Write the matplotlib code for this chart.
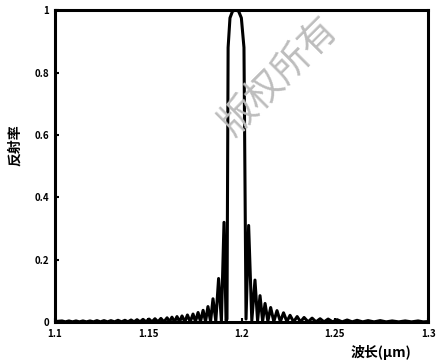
import matplotlib
matplotlib.use('Agg')
import matplotlib.pyplot as plt

plt.rcParams['font.family'] = ['Noto Sans CJK SC', 'DejaVu Sans']

# wavelength (um) and reflectance, left to right
wavelength = [
    1.1000, 1.1038, 1.1056, 1.1075, 1.1094, 1.1113, 1.1131, 1.1150, 1.1169,
    1.1188, 1.1206, 1.1225, 1.1244, 1.1263, 1.1282, 1.1300, 1.1319, 1.1338,
    1.1357, 1.1375, 1.1391, 1.1408, 1.1424, 1.1440, 1.1456, 1.1472, 1.1488,
    1.1504, 1.1520, 1.1536, 1.1552, 1.1568, 1.1584, 1.1601, 1.1614, 1.1627,
    1.1641, 1.1654, 1.1668, 1.1681, 1.1696, 1.1710, 1.1725, 1.1740, 1.1753,
    1.1767, 1.1780, 1.1794, 1.1807, 1.1820, 1.1834, 1.1847, 1.1862, 1.1877,
    1.1892, 1.1906, 1.1917,
    # main peak
    1.1922, 1.1928, 1.1938, 1.1952, 1.1968, 1.1984, 1.1999, 1.2013, 1.2024,
    # right side lobes
    1.2038, 1.2055, 1.2072, 1.2086, 1.2099, 1.2113, 1.2126, 1.2141, 1.2156,
    1.2173, 1.2190, 1.2208, 1.2225, 1.2243, 1.2260, 1.2279, 1.2298, 1.2316,
    1.2335, 1.2357, 1.2378, 1.2399, 1.2421, 1.2442, 1.2464, 1.2488, 1.2512,
    1.2539, 1.2566, 1.2593, 1.2619, 1.2649, 1.2678, 1.2710, 1.2743, 1.2775,
    1.2807, 1.2842, 1.2877, 1.2911, 1.2946, 1.2973, 1.3000,
]
reflectance = [
    0.002, 0.004, 0.001, 0.004, 0.001, 0.004, 0.001, 0.004, 0.001,
    0.004, 0.001, 0.005, 0.001, 0.005, 0.001, 0.005, 0.001, 0.006,
    0.001, 0.006, 0.001, 0.007, 0.001, 0.008, 0.001, 0.009, 0.001,
    0.010, 0.001, 0.011, 0.001, 0.012, 0.001, 0.014, 0.001, 0.016,
    0.001, 0.018, 0.001, 0.020, 0.001, 0.023, 0.001, 0.026, 0.002,
    0.031, 0.002, 0.038, 0.002, 0.050, 0.002, 0.075, 0.003, 0.140,
    0.004, 0.320, 0.005,
    0.010, 0.880, 0.975, 0.997, 1.000, 0.997, 0.975, 0.880, 0.010,
    0.310, 0.005, 0.135, 0.004, 0.085, 0.003, 0.060, 0.003, 0.047,
    0.002, 0.037, 0.002, 0.030, 0.002, 0.022, 0.001, 0.018, 0.001,
    0.015, 0.001, 0.013, 0.001, 0.011, 0.001, 0.010, 0.001, 0.008,
    0.001, 0.007, 0.001, 0.006, 0.001, 0.005, 0.001, 0.005, 0.001,
    0.004, 0.001, 0.004, 0.001, 0.004, 0.001, 0.002,
]

x_ticks = [1.1, 1.15, 1.2, 1.25, 1.3]
x_tick_labels = ['1.1', '1.15', '1.2', '1.25', '1.3']
y_ticks = [0, 0.2, 0.4, 0.6, 0.8, 1]
y_tick_labels = ['0', '0.2', '0.4', '0.6', '0.8', '1']

fig = plt.figure(figsize=(4.36, 3.62), dpi=100)
ax = fig.add_axes([0.126, 0.110, 0.856, 0.862])

ax.plot(wavelength, reflectance, color='black', linewidth=2.2)

ax.set_xlim(1.1, 1.3)
ax.set_ylim(0, 1)
ax.set_xticks(x_ticks)
ax.set_xticklabels(x_tick_labels, fontsize=7, fontweight='bold')
ax.set_yticks(y_ticks)
ax.set_yticklabels(y_tick_labels, fontsize=7, fontweight='bold')
ax.tick_params(direction='in', length=3, width=1.5)
ax.tick_params(axis='x', pad=5)
ax.tick_params(axis='y', pad=4)
for s in ax.spines.values():
    s.set_linewidth(2.2)

fig.text(0.035, 0.60, '反射率', rotation=90, ha='center', va='center',
         fontsize=10, fontweight='bold')
fig.text(0.874, 0.025, '波长(μm)', ha='center', va='center',
         fontsize=10, fontweight='bold')
# watermark
fig.text(0.64, 0.79, '版权所有', rotation=45, ha='center', va='center',
         fontsize=27, color='#bdbdbd', zorder=0)

fig.savefig('out.png', dpi=100)
